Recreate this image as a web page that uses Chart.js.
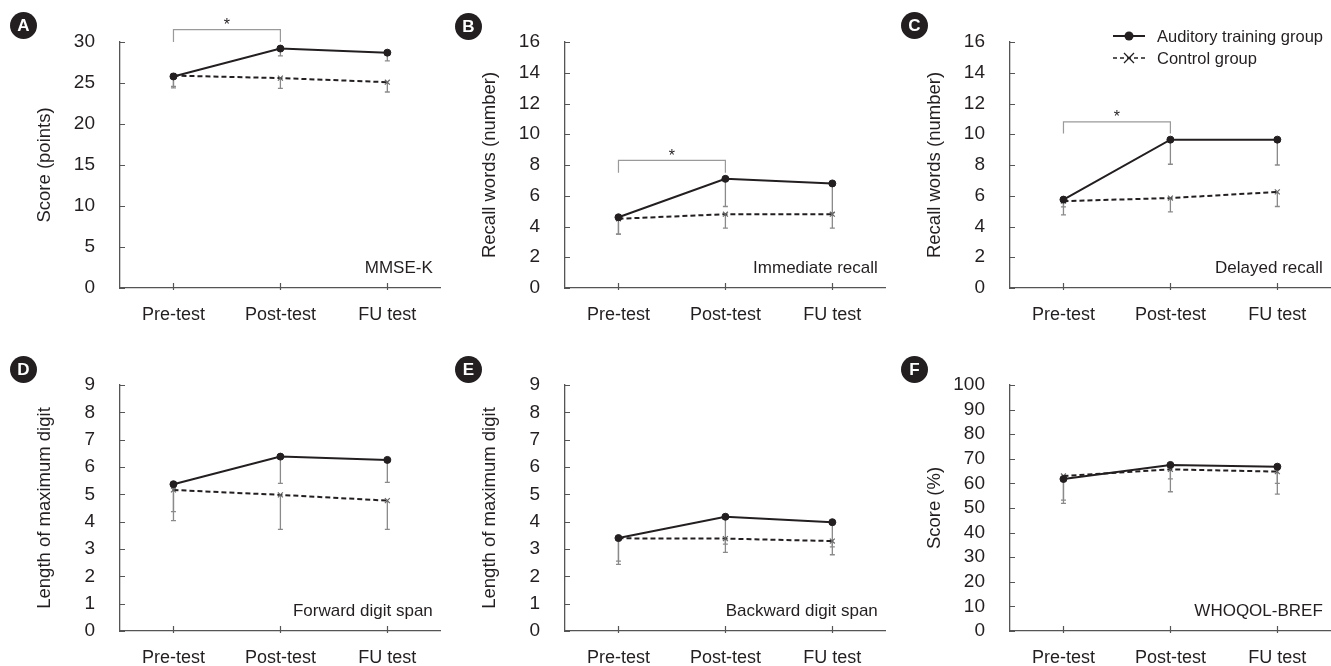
<!DOCTYPE html>
<html>
<head>
<meta charset="utf-8">
<script src="https://cdn.jsdelivr.net/npm/chart.js@4.4.1/dist/chart.umd.min.js"></script>
<style>
  body { margin: 0; background: #fff; width: 1331px; height: 666px; overflow: hidden; position: relative;
         font-family: "Liberation Sans", Arial, sans-serif; color: #231f20; }
  .panel { position: absolute; width: 446px; height: 333px; }
  .tag { position: absolute; width: 27px; height: 27px; border-radius: 50%; background: #231f20; color: #fff;
         font-weight: bold; font-size: 17px; line-height: 27px; text-align: center; }
  #legend { position: absolute; left: 1113px; top: 25px; font-size: 16.5px; line-height: 22px; }
  #legend div { display: flex; align-items: center; white-space: nowrap; }
  #legend svg { margin-right: 12px; }
</style>
</head>
<body>
<div class="panel" style="left:0;top:0"><canvas id="chartA"></canvas></div>
<div class="panel" style="left:445px;top:0"><canvas id="chartB"></canvas></div>
<div class="panel" style="left:890px;top:0"><canvas id="chartC"></canvas></div>
<div class="panel" style="left:0;top:333px"><canvas id="chartD"></canvas></div>
<div class="panel" style="left:445px;top:333px"><canvas id="chartE"></canvas></div>
<div class="panel" style="left:890px;top:333px"><canvas id="chartF"></canvas></div>

<div class="tag" style="left:10px;top:12px">A</div>
<div class="tag" style="left:455px;top:13px">B</div>
<div class="tag" style="left:901px;top:12px">C</div>
<div class="tag" style="left:10px;top:356px">D</div>
<div class="tag" style="left:455px;top:356px">E</div>
<div class="tag" style="left:901px;top:356px">F</div>

<div id="legend">
  <div><svg width="32" height="14"><line x1="0" y1="7" x2="32" y2="7" stroke="#231f20" stroke-width="2"/><circle cx="16" cy="7" r="4.5" fill="#231f20"/></svg>Auditory training group</div>
  <div><svg width="32" height="14"><line x1="0" y1="7" x2="32" y2="7" stroke="#231f20" stroke-width="1.3" stroke-dasharray="4,3"/><path d="M11 2 L21 12 M21 2 L11 12" stroke="#231f20" stroke-width="1.3"/></svg>Control group</div>
</div>

<script>
// categories on the x axis
var categories = ['Pre-test', 'Post-test', 'FU test'];

// A - MMSE-K
var mmseTraining = [25.8, 29.2, 28.7];
var mmseTrainingSd = [1.2, 0.9, 1.0];
var mmseControl = [25.9, 25.6, 25.1];
var mmseControlSd = [1.5, 1.25, 1.2];

// B - immediate recall
var immTraining = [4.6, 7.1, 6.8];
var immTrainingSd = [1.1, 1.8, 1.9];
var immControl = [4.5, 4.8, 4.8];
var immControlSd = [1.0, 0.9, 0.9];

// C - delayed recall
var delTraining = [5.75, 9.65, 9.65];
var delTrainingSd = [0.48, 1.6, 1.65];
var delControl = [5.65, 5.85, 6.25];
var delControlSd = [0.9, 0.9, 0.95];

// D - forward digit span
var fwdTraining = [5.37, 6.38, 6.26];
var fwdTrainingSd = [1.0, 0.98, 0.82];
var fwdControl = [5.16, 4.98, 4.77];
var fwdControlSd = [1.12, 1.26, 1.05];

// E - backward digit span
var bwdTraining = [3.4, 4.18, 3.98];
var bwdTrainingSd = [0.84, 1.0, 0.9];
var bwdControl = [3.39, 3.38, 3.29];
var bwdControlSd = [0.95, 0.5, 0.5];

// F - WHOQOL-BREF
var qolTraining = [61.8, 67.5, 66.8];
var qolTrainingSd = [8.6, 5.7, 6.8];
var qolControl = [63.0, 65.7, 64.8];
var qolControlSd = [11.1, 9.1, 9.2];

// significance brackets (leg bottom, bracket top), pre vs post
var mmseBracket = [30, 31.5];
var immBracket = [7.5, 8.3];
var delBracket = [10.05, 10.8];

var textColor = '#231f20';
var axisColor = '#555';
var fontFamily = '"Liberation Sans", Arial, sans-serif';

// draws inward tick marks, error bars (downward), significance bracket and panel name
var extrasPlugin = {
    id: 'extras',
    beforeDatasetsDraw: function(chart) {
        var opts = chart.options.plugins.extras;
        var x = chart.scales.x, y = chart.scales.y;
        var area = chart.chartArea;
        var ctx = chart.ctx;
        ctx.save();
        // tick marks
        ctx.strokeStyle = axisColor;
        ctx.lineWidth = 1.2;
        ctx.beginPath();
        y.ticks.forEach(function(t, i) {
            var py = Math.round(y.getPixelForTick(i)) + 0.5;
            ctx.moveTo(area.left, py);
            ctx.lineTo(area.left + 5, py);
        });
        x.ticks.forEach(function(t, i) {
            var px = Math.round(x.getPixelForTick(i)) + 0.5;
            ctx.moveTo(px, area.bottom - 5);
            ctx.lineTo(px, area.bottom + 2);
        });
        ctx.stroke();
        // error bars
        ctx.strokeStyle = '#8a8a8a';
        ctx.lineWidth = 1.3;
        opts.sds.forEach(function(sd, di) {
            var meta = chart.getDatasetMeta(di);
            chart.data.datasets[di].data.forEach(function(v, i) {
                var px = meta.data[i].x;
                var top = y.getPixelForValue(v);
                var bot = y.getPixelForValue(v - sd[i]);
                ctx.beginPath();
                ctx.moveTo(px, top);
                ctx.lineTo(px, bot);
                ctx.moveTo(px - 2.5, bot);
                ctx.lineTo(px + 2.5, bot);
                ctx.stroke();
            });
        });
        ctx.restore();
    },
    afterDraw: function(chart) {
        var opts = chart.options.plugins.extras;
        var x = chart.scales.x, y = chart.scales.y;
        var ctx = chart.ctx;
        var area = chart.chartArea;
        ctx.save();
        if (opts.bracket) {
            var x0 = x.getPixelForValue(0), x1 = x.getPixelForValue(1);
            var yLeg = y.getPixelForValue(opts.bracket[0]);
            var yTop = y.getPixelForValue(opts.bracket[1]);
            ctx.strokeStyle = '#9a9a9a';
            ctx.lineWidth = 1.2;
            ctx.beginPath();
            ctx.moveTo(x0, yLeg);
            ctx.lineTo(x0, yTop);
            ctx.lineTo(x1, yTop);
            ctx.lineTo(x1, yLeg);
            ctx.stroke();
            ctx.fillStyle = textColor;
            ctx.font = '16px ' + fontFamily;
            ctx.textAlign = 'center';
            ctx.textBaseline = 'middle';
            ctx.fillText('*', (x0 + x1) / 2, yTop - 4);
        }
        ctx.fillStyle = textColor;
        ctx.font = '17px ' + fontFamily;
        ctx.textAlign = 'right';
        ctx.textBaseline = 'middle';
        ctx.fillText(opts.name, area.right - 8, area.bottom - 20);
        ctx.restore();
    }
};

function makePanel(id, training, trainingSd, control, controlSd, yMax, yStep, yTitle, name, bracket, topRow) {
    var ctx = document.getElementById(id).getContext('2d');
    return new Chart(ctx, {
        type: 'line',
        data: {
            labels: categories,
            datasets: [{
                label: 'Auditory training group',
                data: training,
                borderColor: textColor,
                backgroundColor: textColor,
                borderWidth: 2,
                pointStyle: 'circle',
                pointRadius: 3.5,
                pointBorderWidth: 1,
                tension: 0
            }, {
                label: 'Control group',
                data: control,
                borderColor: textColor,
                backgroundColor: textColor,
                borderWidth: 2,
                borderDash: [5, 3],
                pointStyle: 'crossRot',
                pointRadius: 3.5,
                pointBorderColor: '#666',
                pointBorderWidth: 1.2,
                tension: 0
            }]
        },
        options: {
            responsive: true,
            maintainAspectRatio: false,
            animation: false,
            layout: { padding: { top: topRow ? 42 : 52, right: 0, bottom: 0, left: 0 } },
            plugins: {
                legend: { display: false },
                tooltip: { enabled: false },
                extras: { sds: [trainingSd, controlSd], bracket: bracket, name: name }
            },
            scales: {
                x: {
                    offset: true,
                    grid: { display: false },
                    border: { color: axisColor, width: 1.3 },
                    ticks: { color: textColor, padding: 8, autoSkip: false, font: { size: 18, family: fontFamily } },
                    afterFit: function(axis) {
                        axis.height = topRow ? 45 : 35;
                        axis.paddingLeft = 0;
                        axis.paddingRight = 0;
                    }
                },
                y: {
                    min: 0,
                    max: yMax,
                    grid: { display: false },
                    border: { color: axisColor, width: 1.3 },
                    ticks: { stepSize: yStep, autoSkip: false, color: textColor, padding: 17, font: { size: 19, family: fontFamily } },
                    afterBuildTicks: function(axis) {
                        var ticks = [];
                        for (var v = 0; v <= yMax + 1e-9; v += yStep) ticks.push({ value: v });
                        axis.ticks = ticks;
                    },
                    title: {
                        display: true,
                        text: yTitle,
                        color: textColor,
                        padding: { top: 34, bottom: 0 },
                        font: { size: 18.5, family: fontFamily }
                    },
                    afterFit: function(axis) { axis.width = 120; }
                }
            }
        },
        plugins: [extrasPlugin]
    });
}

makePanel('chartA', mmseTraining, mmseTrainingSd, mmseControl, mmseControlSd, 30, 5, 'Score (points)', 'MMSE-K', mmseBracket, true);
makePanel('chartB', immTraining, immTrainingSd, immControl, immControlSd, 16, 2, 'Recall words (number)', 'Immediate recall', immBracket, true);
makePanel('chartC', delTraining, delTrainingSd, delControl, delControlSd, 16, 2, 'Recall words (number)', 'Delayed recall', delBracket, true);
makePanel('chartD', fwdTraining, fwdTrainingSd, fwdControl, fwdControlSd, 9, 1, 'Length of maximum digit', 'Forward digit span', null, false);
makePanel('chartE', bwdTraining, bwdTrainingSd, bwdControl, bwdControlSd, 9, 1, 'Length of maximum digit', 'Backward digit span', null, false);
makePanel('chartF', qolTraining, qolTrainingSd, qolControl, qolControlSd, 100, 10, 'Score (%)', 'WHOQOL-BREF', null, false);
</script>
</body>
</html>
